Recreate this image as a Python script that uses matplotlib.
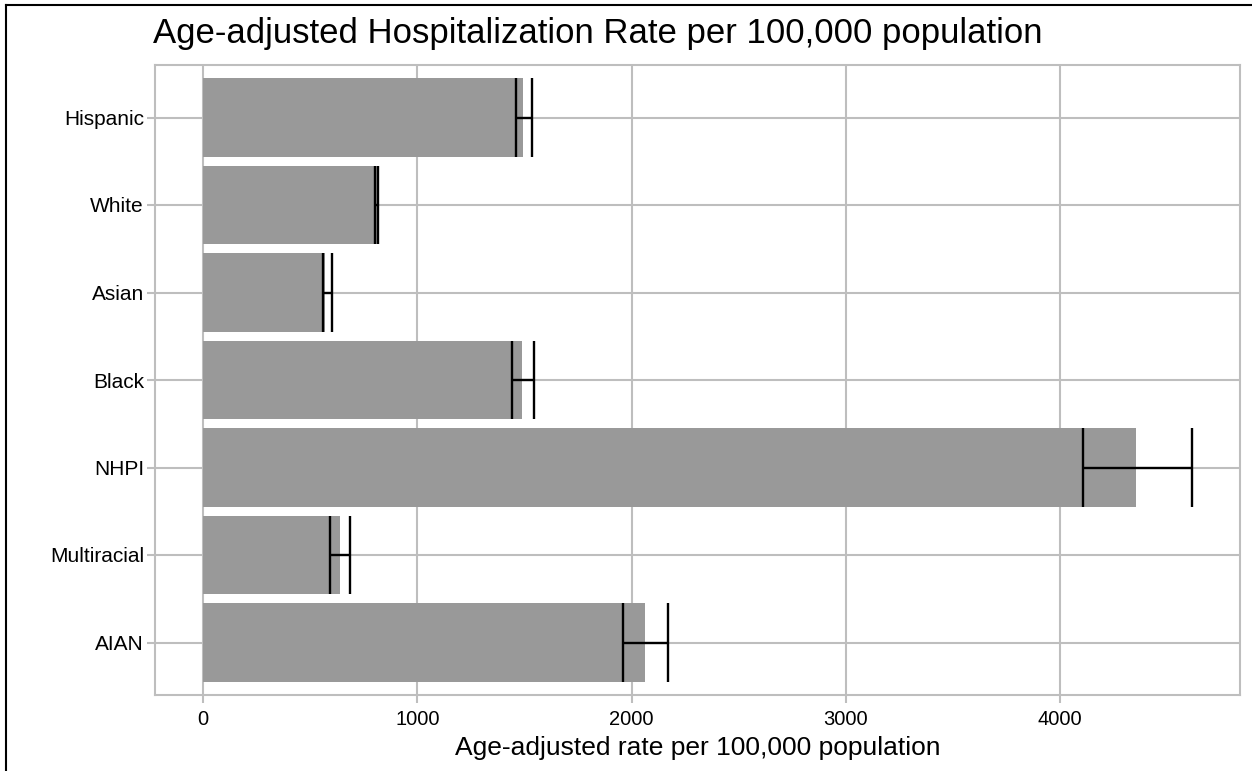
import numpy as np
import matplotlib
matplotlib.use('Agg')
import matplotlib.pyplot as plt
from matplotlib.lines import Line2D

plt.rcParams['font.family'] = ['Liberation Sans', 'DejaVu Sans']

# data (top to bottom)
groups = ['Hispanic', 'White', 'Asian', 'Black', 'NHPI', 'Multiracial', 'AIAN']
rates = [1493, 815, 567, 1490, 4352, 639, 2063]
lower = [1461, 803, 562, 1440, 4108, 594, 1961]
upper = [1535, 817, 603, 1545, 4613, 688, 2171]
xticks = [0, 1000, 2000, 3000, 4000]

grid_col = '#bebebe'
bar_h = 0.9

fig = plt.figure(figsize=(12.52, 7.71), dpi=100)
ax = fig.add_axes([155 / 1252, 76 / 771, 1085 / 1252, 630 / 771])

y = np.arange(len(groups))[::-1]
ax.barh(y, rates, height=bar_h, color='#999999', zorder=2)

# error bars: whiskers span the full bar height
ax.hlines(y, lower, upper, color='black', lw=1.7, zorder=3)
ax.vlines(lower, y - bar_h / 2, y + bar_h / 2, color='black', lw=1.7, zorder=3)
ax.vlines(upper, y - bar_h / 2, y + bar_h / 2, color='black', lw=1.7, zorder=3)

ax.set_xlim(-224, 4839)
ax.set_ylim(-0.6, len(groups) - 0.4)
ax.set_yticks(y)
ax.set_yticklabels(groups, fontsize=15)
ax.set_xticks(xticks)
ax.set_xticklabels([str(v) for v in xticks], fontsize=14.5)

ax.grid(True, color=grid_col, lw=1.5, zorder=0)
ax.set_axisbelow(True)
for s in ax.spines.values():
    s.set_color(grid_col)
    s.set_linewidth(1.5)
ax.tick_params(axis='both', colors=grid_col, width=1.5, length=6,
               labelcolor='black')
ax.tick_params(axis='y', pad=2)
ax.tick_params(axis='x', pad=5)

ax.set_xlabel('Age-adjusted rate per 100,000 population', fontsize=19, labelpad=5)
ax.set_title('Age-adjusted Hospitalization Rate per 100,000 population',
             loc='left', fontsize=25, pad=16, x=-0.002)

# screenshot frame on top and left edge
fig.add_artist(Line2D([6 / 1252, 1], [1 - 5 / 771, 1 - 5 / 771],
                      transform=fig.transFigure, color='black', lw=1.5))
fig.add_artist(Line2D([6 / 1252, 6 / 1252], [0, 1 - 5 / 771],
                      transform=fig.transFigure, color='black', lw=1.5))

fig.savefig('out.png', dpi=100)
